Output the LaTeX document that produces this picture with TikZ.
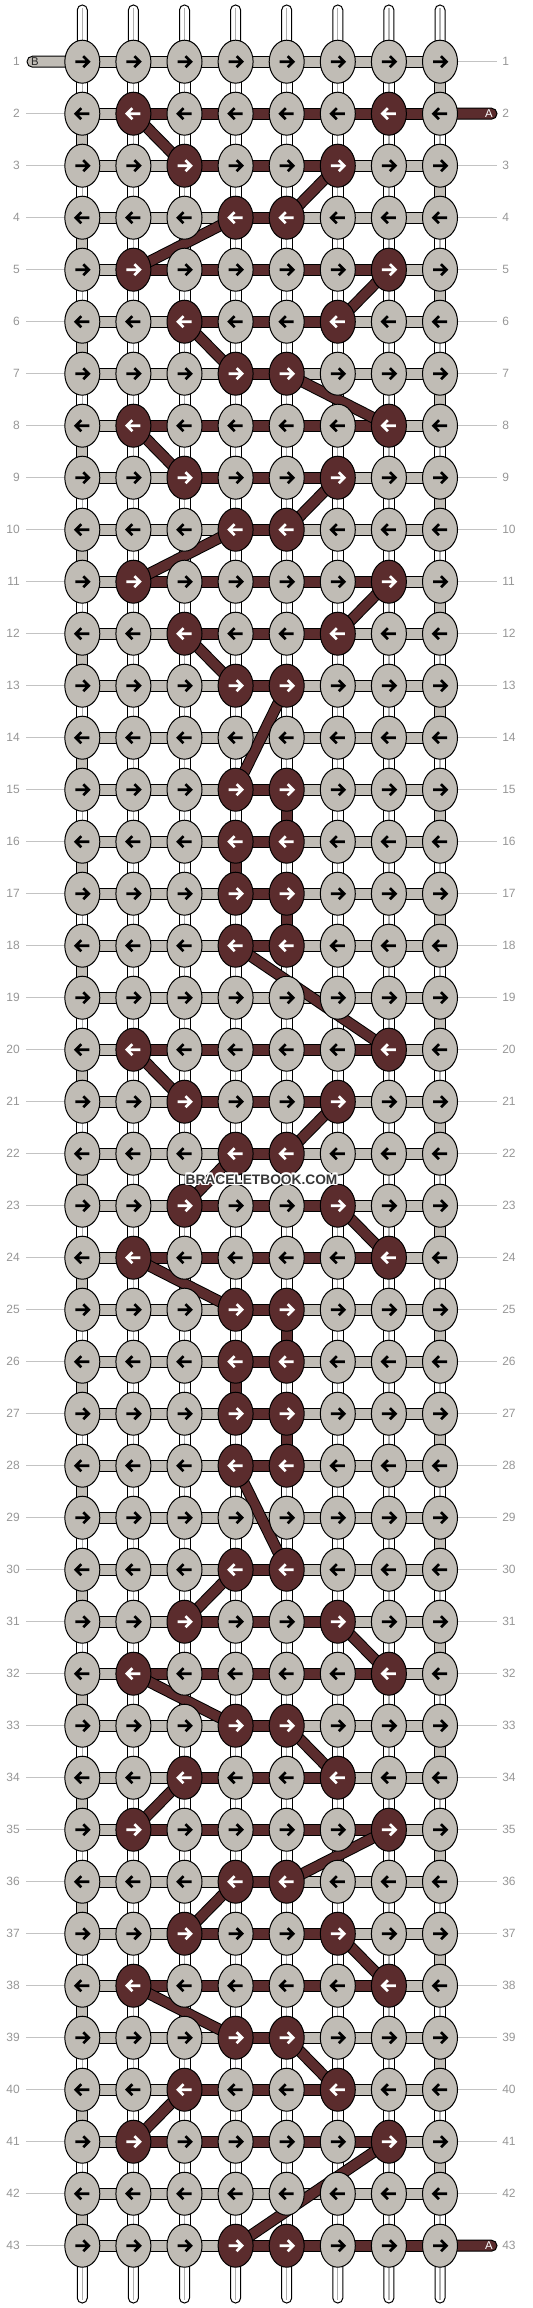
\documentclass[tikz,border=0pt]{standalone}
\usepackage{fontspec}
\setmainfont{Liberation Sans}
\usetikzlibrary{shapes.geometric}
\definecolor{kgrey}{RGB}{192,188,181}
\definecolor{kbrown}{RGB}{91,44,45}
\definecolor{lgrey}{RGB}{150,150,150}
\definecolor{leadgrey}{RGB}{195,195,195}
\definecolor{midline}{RGB}{175,175,175}
\definecolor{wmgrey}{RGB}{55,55,55}
\def\lolist{{0,2,3,4,2,3,4,2,3,4,2,3,4,0,4,4,4,4,0,2,3,4,3,2,4,4,4,4,0,4,3,2,4,3,2,4,3,2,4,3,2,0,4}}
\begin{document}
\begin{tikzpicture}[x=0.75pt,y=-0.75pt,
  knot/.style={ellipse, draw=black, line width=0.75pt, minimum width=26.25pt, minimum height=32.25pt, inner sep=0pt},
  lknot/.style={knot, fill=kgrey},
  dknot/.style={knot, fill=kbrown},
  hgrey/.style={fill=kgrey, draw=black, line width=0.75pt},
  hbrown/.style={fill=kbrown, draw=black, line width=0.75pt},
  vwhite/.style={fill=white, draw=black, line width=0.75pt},
  midl/.style={draw=midline, line width=0.9pt},
  diagout/.style={draw=black, line width=8.6pt},
  diagin/.style={draw=kbrown, line width=7.1pt},
  leader/.style={draw=leadgrey, line width=0.75pt},
  rowlab/.style={text=lgrey, font=\fontsize{9}{9}\selectfont, inner sep=0pt},
  taillab/.style={font=\fontsize{8.5}{8.5}\selectfont, inner sep=0pt},
  wm/.style={font=\bfseries\fontsize{10.3}{10.3}\selectfont, inner sep=0pt},
  arrowline/.style={line width=2pt, line cap=butt, line join=miter},
  pics/rarr/.style={code={\draw[arrowline,draw=#1] (-7,0) -- (6,0) (1,-5.5) -- (6.5,0) -- (1,5.5);}},
  pics/larr/.style={code={\draw[arrowline,draw=#1] (7,0) -- (-6,0) (-1,-5.5) -- (-6.5,0) -- (-1,5.5);}},
]
\useasboundingbox (0,0) rectangle (532,2308);
% grid positions
\foreach \r in {1,...,43}{
  \foreach \c in {1,...,8}{
    \coordinate (p-\r-\c) at ({82.3+(\c-1)*51.1},{61.7+(\r-1)*52});
  }
  \coordinate (la-\r) at (26,{61.7+(\r-1)*52});
  \coordinate (ra-\r) at (497,{61.7+(\r-1)*52});
}
% top and bottom strands
\foreach \c in {1,...,8}{
  \coordinate (top-\c) at ({82.3+(\c-1)*51.1},5);
  \coordinate (bot-\c) at ({82.3+(\c-1)*51.1},2303);
  \draw[vwhite, rounded corners=3.7pt] ([xshift=-3.75pt]top-\c) rectangle ([xshift=3.75pt]p-1-\c);
  \draw[midl] ([yshift=-2.5pt]top-\c) -- (p-1-\c);
  \draw[vwhite, rounded corners=3.7pt] ([xshift=-3.75pt]p-43-\c) rectangle ([xshift=3.75pt]bot-\c);
  \draw[midl] (p-43-\c) -- ([yshift=2.5pt]bot-\c);
}
% vertical connectors
\foreach \r in {1,...,42}{
  \pgfmathtruncatemacro\rn{\r+1}
  \pgfmathtruncatemacro\tc{ifthenelse(mod(\r,2)==1,8,1)}
  \foreach \c in {1,...,8}{
    \ifnum\c=\tc
      \draw[hgrey] ([xshift=-4.125pt]p-\r-\c) rectangle ([xshift=4.125pt]p-\rn-\c);
    \else
      \draw[vwhite] ([xshift=-4.125pt]p-\r-\c) rectangle ([xshift=4.125pt]p-\rn-\c);
      \draw[midl] (p-\r-\c) -- (p-\rn-\c);
    \fi
  }
}
% brown vertical connectors
\foreach \a/\b in {15/5,16/4,17/5,25/5,26/4,27/5}{
  \pgfmathtruncatemacro\an{\a+1}
  \draw[hbrown] ([xshift=-4.125pt]p-\a-\b) rectangle ([xshift=4.125pt]p-\an-\b);
}
% leader lines and row labels
\foreach \r in {1,...,43}{
  \ifnum\r=1\else\draw[leader] (la-\r) -- (p-\r-1);\fi
  \ifnum\r=2\else\ifnum\r=43\else\draw[leader] (p-\r-8) -- (ra-\r);\fi\fi
  \node[rowlab, anchor=east] (ll-\r) at ([xshift=-4.5pt]la-\r) {\r};
  \node[rowlab, anchor=west] (rl-\r) at ([xshift=3.75pt]ra-\r) {\r};
}
% tails
\coordinate (tailB) at (27,61.7);
\coordinate (tailA1) at (497,113.7);
\coordinate (tailA2) at (497,2245.7);
\draw[hgrey, rounded corners=4.1pt] ([yshift=4.125pt]tailB) rectangle ([yshift=-4.125pt]p-1-1);
\draw[hbrown, rounded corners=4.1pt] ([yshift=4.125pt]p-2-8) rectangle ([yshift=-4.125pt]tailA1);
\draw[hbrown, rounded corners=4.1pt] ([yshift=4.125pt]p-43-8) rectangle ([yshift=-4.125pt]tailA2);
% horizontal bands
\foreach \r in {1,...,43}{
  \pgfmathtruncatemacro\lo{\lolist[\r-1]}
  \ifnum\lo=0 \def\hi{0}\else\pgfmathtruncatemacro\hi{9-\lo}\fi
  \ifnum\r=2 \def\hi{8}\fi
  \ifnum\r=43 \def\hi{8}\fi
  \foreach \c in {1,...,7}{
    \pgfmathtruncatemacro\cc{\c+1}
    \def\hst{hgrey}
    \ifnum\lo>0 \ifnum\c<\lo\relax\else\ifnum\cc>\hi\relax\else\def\hst{hbrown}\fi\fi\fi
    \draw[\hst] ([yshift=4.125pt]p-\r-\c) rectangle ([yshift=-4.125pt]p-\r-\cc);
  }
}
% diagonal brown threads
\foreach \a/\b/\e/\d in {2/2/3/3, 3/6/4/5, 4/4/5/2, 5/7/6/6, 6/3/7/4, 7/5/8/7, 8/2/9/3, 9/6/10/5, 10/4/11/2, 11/7/12/6, 12/3/13/4, 13/5/15/4, 18/4/20/7, 20/2/21/3, 21/6/22/5, 22/4/23/3, 23/6/24/7, 24/2/25/4, 28/4/30/5, 30/4/31/3, 31/6/32/7, 32/2/33/4, 33/5/34/6, 34/3/35/2, 35/7/36/5, 36/4/37/3, 37/6/38/7, 38/2/39/4, 39/5/40/6, 40/3/41/2, 41/7/43/4}{
  \draw[diagout] (p-\a-\b) -- (p-\e-\d);
  \draw[diagin] (p-\a-\b) -- (p-\e-\d);
}
% knots and arrows
\foreach \r in {1,...,43}{
  \pgfmathtruncatemacro\lo{\lolist[\r-1]}
  \pgfmathtruncatemacro\hi{9-\lo}
  \foreach \c in {1,...,8}{
    \def\kst{lknot}\def\acol{black}
    \ifnum\lo>0
      \ifnum\c=\lo \def\kst{dknot}\def\acol{white}\fi
      \ifnum\c=\hi \def\kst{dknot}\def\acol{white}\fi
    \fi
    \node[\kst] (k-\r-\c) at (p-\r-\c) {};
    \ifodd\r \pic at (p-\r-\c) {rarr=\acol};\else\pic at (p-\r-\c) {larr=\acol};\fi
  }
}
% tail labels
\node[taillab, text=black!85] (tB) at ([xshift=6pt]tailB) {B};
\node[taillab, text=white] (tA1) at ([xshift=-6pt]tailA1) {A};
\node[taillab, text=white] (tA2) at ([xshift=-6pt]tailA2) {A};
% watermark
\coordinate (wmc) at (261.5,1179.3);
\foreach \dx/\dy [count=\i] in {1/0,-1/0,0/1,0/-1,0.8/0.8,-0.8/0.8,0.8/-0.8,-0.8/-0.8}{
  \node[wm, text=white] (wmh-\i) at ([xshift=\dx pt,yshift=\dy pt]wmc) {BRACELETBOOK.COM};
}
\node[wm, text=wmgrey] (wmt) at (wmc) {BRACELETBOOK.COM};
\end{tikzpicture}
\end{document}
